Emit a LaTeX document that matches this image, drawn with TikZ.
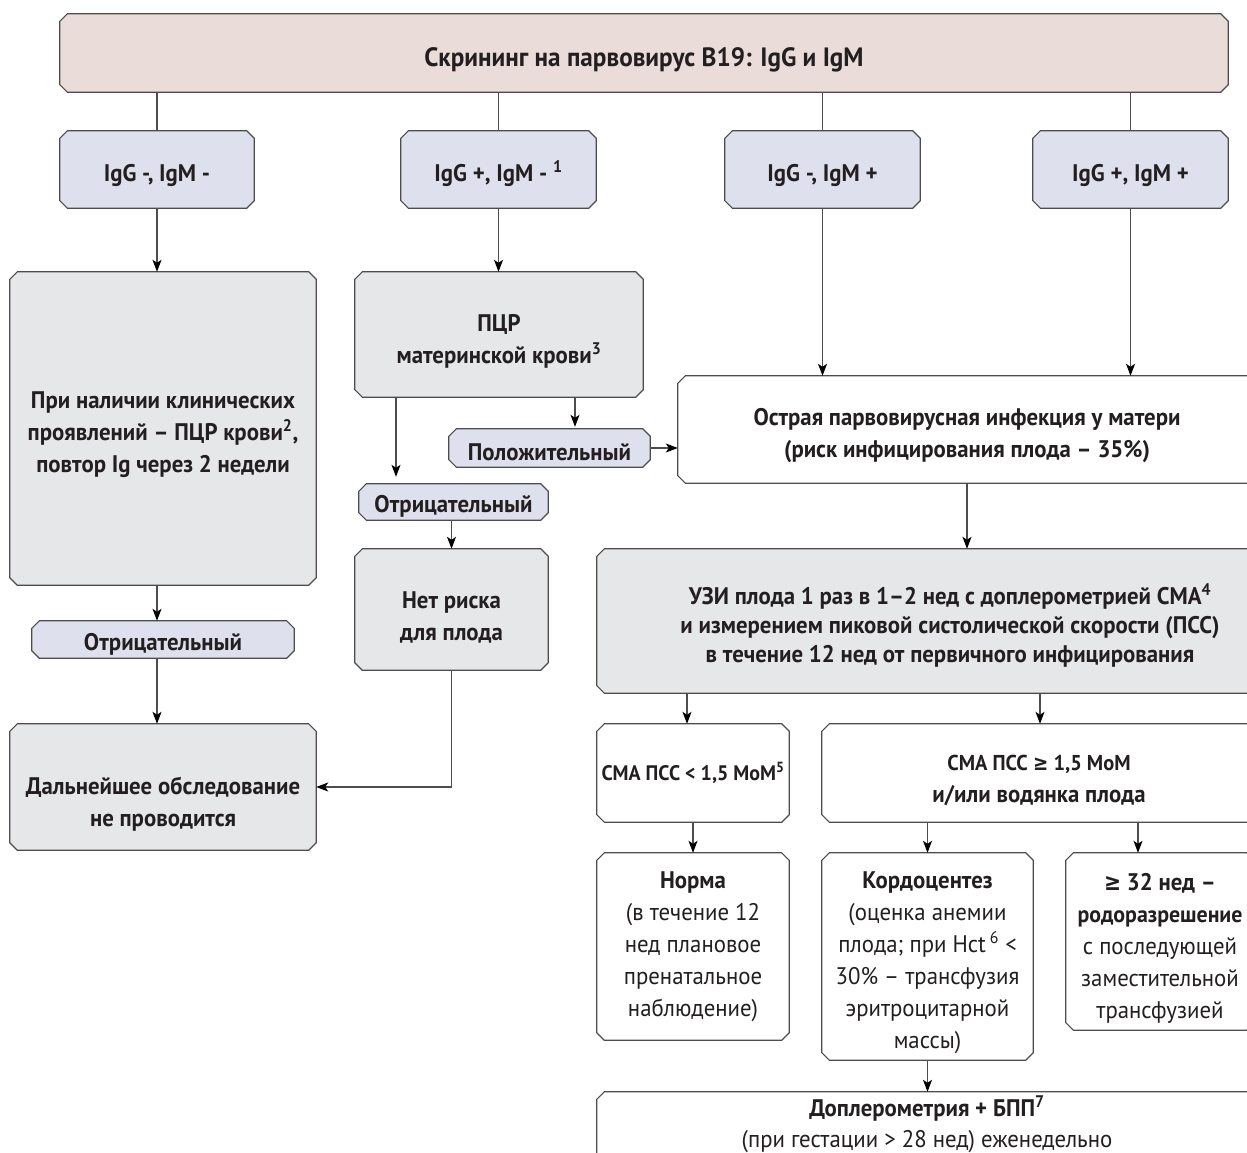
\documentclass[tikz,border=0pt]{standalone}
\usepackage{fontspec}
\setmainfont{PT Sans}[FakeStretch=0.95]
\newfontfamily\djv{DejaVu Sans}[FakeStretch=0.85]
\usetikzlibrary{arrows.meta,backgrounds,calc}
\definecolor{pinkf}{HTML}{EADCD8}
\definecolor{lavf}{HTML}{DEE0ED}
\definecolor{grayf}{HTML}{E6E7E8}
\definecolor{edgec}{HTML}{4D4D4D}
\definecolor{txt}{HTML}{231F20}
\newcommand\fsz{\fontsize{24}{32}\selectfont}
\newcommand\ts{\rule{0pt}{30pt}}
\newcommand\tp{\rule{0pt}{26pt}}
\newcommand\gesym{{\djv ≥}}
\newcommand\chbox[2]{%
  \path[draw=edgec, line width=1.2pt, fill=#2]
    ([xshift=7.5pt]#1.north west) -- ([xshift=-7.5pt]#1.north east) --
    ([yshift=-7.5pt]#1.north east) -- ([yshift=7.5pt]#1.south east) --
    ([xshift=-7.5pt]#1.south east) -- ([xshift=7.5pt]#1.south west) --
    ([yshift=7.5pt]#1.south west) -- ([yshift=-7.5pt]#1.north west) -- cycle;}
\tikzset{
  bx/.style={inner sep=0pt, align=center, font=\fsz\bfseries, text=txt},
  bxr/.style={inner sep=0pt, align=center, font=\fsz, text=txt},
  conn/.style={draw=edgec, line width=1.2pt},
  arr/.style={conn, -{Stealth[length=12pt,width=9pt,inset=3pt,color=black]}}
}
\begin{document}
\begin{tikzpicture}[x=1pt,y=-1pt]
\useasboundingbox (0,0) rectangle (1247,1153);
\clip (0,0) rectangle (1247,1153);
% nodes
\node[bx, font=\fontsize{26.5}{32}\selectfont\bfseries, minimum width=1168pt, minimum height=78pt] (top) at (644,53) {\rule{0pt}{33pt}Скрининг на парвовирус В19: IgG и IgM};
\node[bx, minimum width=194pt, minimum height=77pt] (g1) at (157,169.5) {\ts IgG -, IgM -};
\node[bx, minimum width=195pt, minimum height=77pt] (g2) at (498.5,169.5) {\ts IgG +, IgM - \textsuperscript{1}};
\node[bx, minimum width=195pt, minimum height=77pt] (g3) at (822.5,169.5) {\ts IgG -, IgM +};
\node[bx, minimum width=195pt, minimum height=77pt] (g4) at (1130.5,169.5) {\ts IgG +, IgM +};
\node[bx, minimum width=306pt, minimum height=313pt] (clin) at (163,428.5) {\ts При наличии клинических\\проявлений – ПЦР крови\textsuperscript{2},\\повтор Ig через 2 недели};
\node[bx, minimum width=262pt, minimum height=37pt] (neg1) at (163,639.5) {\tp Отрицательный};
\node[bx, minimum width=306pt, minimum height=126pt] (further) at (163,787) {\rule{0pt}{51pt}Дальнейшее обследование\\не проводится};
\node[bx, minimum width=288pt, minimum height=125pt] (pcr) at (499,334.5) {\ts ПЦР\\материнской крови\textsuperscript{3}};
\node[bx, minimum width=201pt, minimum height=38pt] (pos) at (549.5,448) {\tp Положительный};
\node[bx, minimum width=189pt, minimum height=36pt] (neg2) at (453.5,502) {\tp Отрицательный};
\node[bx, minimum width=193pt, minimum height=121pt] (norisk) at (451.5,609.5) {\rule{0pt}{33pt}Нет риска\\для плода};
\node[bx, minimum width=578pt, minimum height=107pt] (acute) at (967,429.5) {\ts Острая парвовирусная инфекция у матери\\(риск инфицирования плода – 35\%)};
\node[bx, font=\fontsize{24}{29}\selectfont\bfseries, minimum width=706pt, minimum height=144pt] (us) at (950,621) {\ts УЗИ плода 1 раз в 1–2 нед с доплерометрией СМА\textsuperscript{4}\\и измерением пиковой систолической скорости (ПСС)\\в течение 12 нед от первичного инфицирования};
\node[bx, font=\fontsize{21}{32}\selectfont\bfseries, minimum width=192pt, minimum height=98pt] (s1) at (693,773) {СМА ПСС < 1,5 MoM\textsuperscript{5}};
\node[bx, minimum width=434pt, minimum height=98pt] (s2) at (1039,773) {\ts{\fontsize{21.5}{32}\selectfont СМА ПСС \gesym{} 1,5 MoM}\\и/или водянка плода};
\node[bxr, minimum width=192pt, minimum height=187pt] (norma) at (693,946.5) {\textbf{Норма}\\(в течение 12\\нед плановое\\пренатальное\\наблюдение)};
\node[bxr, minimum width=211pt, minimum height=207pt] (cordo) at (927.5,956.5) {\ts\textbf{Кордоцентез}\\(оценка анемии\\плода; при Hct\,\textsuperscript{6} <\\30\% – трансфузия\\эритроцитарной\\массы)};
\node[bxr, minimum width=188pt, minimum height=177pt] (ge32) at (1160,941.5) {\ts\textbf{\gesym{} 32 нед –}\\{\fontsize{23}{32}\selectfont\bfseries родоразрешение}\\с последующей\\заместительной\\трансфузией};
\node[bxr, font=\fontsize{24}{31}\selectfont, minimum width=660pt, minimum height=64pt] (dop) at (927,1124) {\textbf{Доплерометрия + БПП\textsuperscript{7}}\\(при гестации > 28 нед) еженедельно};
% box outlines
\begin{scope}[on background layer]
\clip (0,0) rectangle (1247,1153);
\foreach \n/\f in {top/pinkf, g1/lavf, g2/lavf, g3/lavf, g4/lavf, clin/grayf, neg1/lavf, further/grayf, pcr/grayf, pos/lavf, neg2/lavf, norisk/grayf, acute/white, us/grayf, s1/white, s2/white, norma/white, cordo/white, ge32/white}{\chbox{\n}{\f}}
\path[draw=edgec, line width=1.2pt, fill=white]
  ([yshift=-20pt]dop.south west) -- ([yshift=-7.5pt]dop.north west) --
  ([xshift=7.5pt]dop.north west) -- ([xshift=-7.5pt]dop.north east) --
  ([yshift=-7.5pt]dop.north east) -- ([yshift=-20pt]dop.south east);
\end{scope}
% helper coordinates
\coordinate (pl) at (396,0);
\coordinate (pr) at (575,0);
\coordinate (ua) at (687,0);
\coordinate (ub) at (1040,0);
\coordinate (gb) at (1138,0);
% connectors
\draw[conn] (top.south -| g1.north) -- (g1.north);
\draw[conn] (top.south -| g2.north) -- (g2.north);
\draw[conn] (top.south -| g3.north) -- (g3.north);
\draw[conn] (top.south -| g4.north) -- (g4.north);
\draw[arr] (g1.south) -- (g1.south |- clin.north);
\draw[arr] (g2.south) -- (g2.south |- pcr.north);
\draw[arr] (g3.south) -- (g3.south |- acute.north);
\draw[arr] (g4.south) -- (g4.south |- acute.north);
\draw[arr] (clin.south -| g1.south) -- (neg1.north -| g1.south);
\draw[arr] (neg1.south -| g1.south) -- (further.north -| g1.south);
\draw[arr, shorten >=7pt] (pcr.south -| pl) -- (neg2.north -| pl);
\draw[arr, shorten >=2pt] (pcr.south -| pr) -- (pos.north -| pr);
\draw[arr] (pos.east) -- (pos.east -| acute.west);
\draw[arr] (neg2.south -| norisk.north) -- (norisk.north);
\draw[arr] (norisk.south) |- (further.east);
\draw[arr] (acute.south) -- (acute.south |- us.north);
\draw[arr] (us.south -| ua) -- (s1.north -| ua);
\draw[arr] (us.south -| ub) -- (s2.north -| ub);
\draw[arr] (s1.south) -- (norma.north);
\draw[arr] (s2.south -| cordo.north) -- (cordo.north);
\draw[arr] (s2.south -| gb) -- (ge32.north -| gb);
\draw[arr] (cordo.south) -- (dop.north -| cordo.south);
\end{tikzpicture}
\end{document}
